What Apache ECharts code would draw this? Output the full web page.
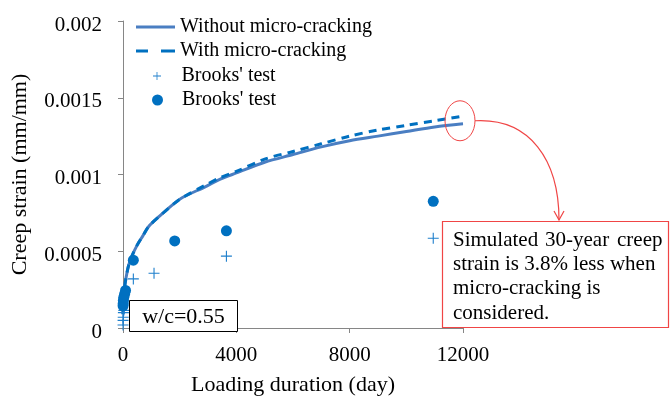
<!DOCTYPE html>
<html><head><meta charset="utf-8">
<script src="https://cdn.jsdelivr.net/npm/echarts@6/dist/echarts.min.js"></script>
<style>html,body{margin:0;padding:0;background:#fff}#c{width:670px;height:401px}</style>
</head><body><div id="c"></div>
<script>
// ---- data ----
const xTicks = [0, 4000, 8000, 12000];
const yTicks = [0, 0.0005, 0.001, 0.0015, 0.002];
const curveDays = [1,7,28,60,100,200,318,500,700,900,1300,1800,2100,2900,3435,4000,5000,6000,7000,8000,9000,10000,11000,12000];
const withoutCrackStrain = [0.00009,0.00015,0.00021,0.00027,0.00032,0.00041,0.00047,0.00054,0.00060,0.00066,0.00073,0.00081,0.00085,0.00092,0.00097,0.00101,0.00108,0.00113,0.00118,0.00122,0.00125,0.00128,0.00131,0.00133];
const withCrackStrain    = [0.00009,0.00015,0.00021,0.00027,0.00032,0.00041,0.00047,0.00054,0.00060,0.00066,0.00073,0.00081,0.00085,0.00093,0.00098,0.00102,0.00110,0.00115,0.00120,0.00125,0.00129,0.00132,0.00135,0.00138];
const brooksPlusDays   = [1,3,7,14,28,365,1095,3650,10950];
const brooksPlusStrain = [0.00002,0.00005,0.00007,0.0001,0.000115,0.00032,0.000357,0.000468,0.000585];
const brooksDotDays    = [3,7,14,28,56,90,365,1825,3650,10950];
const brooksDotStrain  = [0.000145,0.00016,0.00018,0.0002,0.00022,0.000245,0.000442,0.000567,0.000633,0.000825];
const seriesNames = ['Without micro-cracking', 'With micro-cracking', "Brooks' test", "Brooks' test "];

const zip = (a, b) => a.map((v, i) => [v, b[i]]);
const FONT = "'Liberation Serif','Times New Roman',serif";
const plusPath = 'path://M5.4,0H6.6V5.4H12V6.6H6.6V12H5.4V6.6H0V5.4H5.4Z';
const solidIcon = 'path://M0,0H39V3H0Z';
const dashIcon = 'path://M0,0H12V3H0Z M25,0H39V3H25Z';

const chart = echarts.init(document.getElementById('c'), null, {renderer: 'canvas'});
const legendText = {fontFamily: FONT, fontSize: 20, color: '#000', lineHeight: 20};
chart.setOption({
  backgroundColor: '#fff',
  animation: false,
  grid: {left: 123, right: 207, top: 21, bottom: 68},
  legend: [
    {data: [{name: seriesNames[0], icon: solidIcon}, {name: seriesNames[1], icon: dashIcon}], orient: 'vertical', left: 136, top: 17, padding: 0,
     itemWidth: 39, itemHeight: 14, itemGap: 4, textStyle: legendText},
    {data: [{name: seriesNames[2], icon: plusPath}], orient: 'vertical', left: 153, top: 66, padding: 0,
     itemWidth: 39, itemHeight: 8, itemGap: 4, textStyle: legendText},
    {data: [seriesNames[3]], orient: 'vertical', left: 152, top: 90, padding: 0,
     itemWidth: 39, itemHeight: 11, itemGap: 4, textStyle: legendText}
  ],
  xAxis: {
    type: 'value', min: xTicks[0], max: xTicks[xTicks.length - 1], interval: 4000,
    name: 'Loading duration (day)', nameLocation: 'middle', nameGap: 46,
    nameTextStyle: {fontFamily: FONT, fontSize: 22, color: '#000'},
    axisLine: {lineStyle: {color: '#868686', width: 1}},
    axisTick: {show: true, length: 5, lineStyle: {color: '#868686'}},
    axisLabel: {fontFamily: FONT, fontSize: 21, color: '#000', margin: 17, formatter: v => String(v),
      alignMinLabel: 'center', alignMaxLabel: 'center'},
    splitLine: {show: false}
  },
  yAxis: {
    type: 'value', min: yTicks[0], max: yTicks[yTicks.length - 1], interval: 0.0005,
    name: 'Creep strain (mm/mm)', nameLocation: 'middle', nameGap: 92,
    nameTextStyle: {fontFamily: FONT, fontSize: 22, color: '#000'},
    axisLine: {show: true, lineStyle: {color: '#868686', width: 1}},
    axisTick: {show: true, length: 5, lineStyle: {color: '#868686'}},
    axisLabel: {fontFamily: FONT, fontSize: 21, color: '#000', margin: 21, verticalAlign: 'middle',
      formatter: v => '{a|' + String(+v.toFixed(4)) + '}',
      rich: {a: {fontFamily: FONT, fontSize: 21, color: '#000', padding: [8, 0, 0, 0]}}},
    splitLine: {show: false}
  },
  series: [
    {name: seriesNames[0], type: 'line', data: zip(curveDays, withoutCrackStrain), symbol: 'none', smooth: 0.3,
     lineStyle: {color: '#4A7EC2', width: 3}, itemStyle: {color: '#4A7EC2'}, z: 3},
    {name: seriesNames[1], type: 'line', data: zip(curveDays, withCrackStrain), symbol: 'none', smooth: 0.3,
     lineStyle: {color: '#0070C0', width: 3, type: [8, 6]}, itemStyle: {color: '#0070C0'}, z: 3},
    {name: seriesNames[2], type: 'scatter', data: zip(brooksPlusDays, brooksPlusStrain), symbol: plusPath, symbolSize: 11,
     itemStyle: {color: '#1E7FCC', opacity: 1}, z: 4},
    {name: seriesNames[3], type: 'scatter', data: zip(brooksDotDays, brooksDotStrain), symbol: 'circle', symbolSize: 11,
     itemStyle: {color: '#0070C0', opacity: 1}, z: 4}
  ]
});

// ---- annotations ----
const red = '#F04545';
const endPt = chart.convertToPixel({gridIndex: 0}, [12000, 0.00135]);
const cx = endPt[0] - 3, cy = endPt[1];
chart.setOption({
  graphic: [
    {type: 'rect', shape: {x: 129.5, y: 300.5, width: 108, height: 31}, style: {fill: '#fff', stroke: '#000', lineWidth: 1}, z: 100},
    {type: 'text', x: 183.5, y: 317, style: {text: 'w/c=0.55', fontFamily: FONT, fontSize: 22, fill: '#000', align: 'center', verticalAlign: 'middle'}, z: 101},
    {type: 'ellipse', shape: {cx: cx, cy: cy, rx: 15, ry: 20}, style: {fill: 'none', stroke: red, lineWidth: 1}, z: 100},
    {type: 'bezierCurve', shape: {x1: cx + 15, y1: cy, cpx1: 530, cpy1: cy - 3, cpx2: 559, cpy2: 160, x2: 559, y2: 220}, style: {fill: 'none', stroke: red, lineWidth: 1.2}, z: 100},
    {type: 'polyline', shape: {points: [[554, 211], [559, 220], [564, 211]]}, style: {fill: 'none', stroke: red, lineWidth: 1.2}, z: 100},
    {type: 'rect', shape: {x: 442.5, y: 221.5, width: 226, height: 106}, style: {fill: '#fff', stroke: red, lineWidth: 1.2}, z: 100},
    {type: 'text', x: 453, y: 240, style: {text: 'Simulated', fontFamily: FONT, fontSize: 21, fill: '#000', verticalAlign: 'middle'}, z: 101},
    {type: 'text', x: 545, y: 240, style: {text: '30-year', fontFamily: FONT, fontSize: 21, fill: '#000', verticalAlign: 'middle'}, z: 101},
    {type: 'text', x: 617, y: 240, style: {text: 'creep', fontFamily: FONT, fontSize: 21, fill: '#000', verticalAlign: 'middle'}, z: 101},
    {type: 'text', x: 453, y: 264, style: {text: 'strain is 3.8% less when', fontFamily: FONT, fontSize: 21, fill: '#000', verticalAlign: 'middle'}, z: 101},
    {type: 'text', x: 453, y: 288, style: {text: 'micro-cracking is', fontFamily: FONT, fontSize: 21, fill: '#000', verticalAlign: 'middle'}, z: 101},
    {type: 'text', x: 453, y: 313, style: {text: 'considered.', fontFamily: FONT, fontSize: 21, fill: '#000', verticalAlign: 'middle'}, z: 101}
  ]
});
</script>
</body></html>
